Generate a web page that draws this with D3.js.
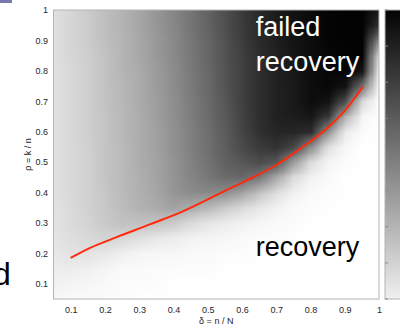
<!DOCTYPE html>
<html><head><meta charset="utf-8">
<script src="https://cdn.jsdelivr.net/npm/d3@7"></script>
<style>
html,body{margin:0;padding:0;background:#fff;overflow:hidden;}
svg{display:block;font-family:"Liberation Sans",Arial,Helvetica,sans-serif;}
</style></head><body>
<svg id="chart" width="400" height="327"></svg>
<script>
// delta (columns) and rho (rows, top to bottom) of the grid
const deltaGrid = [0.05,0.10,0.15,0.20,0.25,0.30,0.35,0.40,0.45,0.50,0.55,0.60,0.65,0.70,0.75,0.80,0.85,0.90,0.95,1.00];
const rhoGrid = [1.00,0.95,0.90,0.85,0.80,0.75,0.70,0.65,0.60,0.55,0.50,0.45,0.40,0.35,0.30,0.25,0.20,0.15,0.10,0.05];
// failure level (0 = recovery/white, 100 = failed/black), one row per rho
const failRows = [
 [12,16,20,25,30,35,41,47,54,61,69,77,84,89,93,96,98,99,99,90],
 [12,16,20,25,30,35,41,47,54,61,69,77,84,89,93,96,98,99,99,80],
 [12,16,20,25,29,34,40,46,53,60,68,76,83,88,92,95,98,99,99,45],
 [12,16,19,24,29,34,40,46,53,60,68,75,82,87,91,95,97,98,99,12],
 [12,15,19,24,29,33,39,45,52,59,67,75,82,87,91,95,97,98,92,3],
 [12,15,19,24,28,33,39,45,52,59,67,75,82,87,90,95,97,93,55,1],
 [12,15,19,24,28,33,38,44,51,58,66,75,82,87,90,95,93,70,15,0],
 [12,15,19,23,28,32,38,44,51,58,65,74,82,87,89,91,78,30,4,0],
 [12,15,19,23,28,32,37,43,50,57,64,73,81,85,85,82,42,8,1,0],
 [12,15,18,23,27,32,37,43,50,56,63,71,77,80,72,44,12,3,0,0],
 [12,15,18,23,27,32,36,42,49,55,62,66,70,66,38,14,4,1,0,0],
 [12,15,18,23,27,31,36,42,48,53,58,59,52,34,14,5,2,0,0,0],
 [12,15,18,22,27,31,35,41,45,46,44,36,24,13,5,2,1,0,0,0],
 [11,14,18,22,26,30,33,36,32,27,20,14,9,5,2,1,0,0,0,0],
 [11,14,17,21,24,24,23,20,14,10,7,5,3,2,1,0,0,0,0,0],
 [10,13,15,17,15,12,9,7,5,4,3,2,1,1,0,0,0,0,0,0],
 [9,11,11,9,6,4,3,3,2,2,1,1,0,0,0,0,0,0,0,0],
 [7,7,6,4,2,2,1,1,1,1,0,0,0,0,0,0,0,0,0,0],
 [5,4,3,2,1,1,1,0,0,0,0,0,0,0,0,0,0,0,0,0],
 [3,2,2,1,1,0,0,0,0,0,0,0,0,0,0,0,0,0,0,0]
];
// phase transition curve (red)
const curveDelta = [0.10,0.157,0.236,0.333,0.429,0.537,0.605,0.704,0.752,0.851,0.898,0.953];
const curveRho   = [0.185,0.218,0.254,0.296,0.339,0.398,0.435,0.493,0.530,0.614,0.666,0.748];
// ticks
const xTicks = [0.1,0.2,0.3,0.4,0.5,0.6,0.7,0.8,0.9,1];
const yTicks = [0.1,0.2,0.3,0.4,0.5,0.6,0.7,0.8,0.9,1];
const cbTicks = [0,12.5,25,37.5,50,62.5,75,87.5,100];
const regionLabels = [
  {text:"failed", d:0.64, r:0.915, color:"#ffffff"},
  {text:"recovery", d:0.64, r:0.80, color:"#ffffff"},
  {text:"recovery", d:0.64, r:0.19, color:"#000000"}
];

const svg = d3.select("#chart");
const x = d3.scaleLinear().domain([0.05,1]).range([53.5,379]);
const y = d3.scaleLinear().domain([0.05,1]).range([299,10]);
const gray = d3.scaleLinear().domain([0,100]).range(["#ffffff","#000000"]);

// heatmap image built from grid values
const nc = deltaGrid.length, nr = rhoGrid.length;
const cv = document.createElement("canvas");
cv.width = nc; cv.height = nr;
const ctx = cv.getContext("2d");
const img = ctx.createImageData(nc, nr);
failRows.forEach((row,i)=>row.forEach((v,j)=>{
  const c = d3.rgb(gray(v));
  const k = (i*nc+j)*4;
  img.data[k]=c.r; img.data[k+1]=c.g; img.data[k+2]=c.b; img.data[k+3]=255;
}));
ctx.putImageData(img,0,0);

const defs = svg.append("defs");
defs.append("clipPath").attr("id","plotclip").append("rect")
  .attr("x",x(0.05)).attr("y",y(1)).attr("width",x(1)-x(0.05)).attr("height",y(0.05)-y(1));

const hd = (deltaGrid[1]-deltaGrid[0])/2, hr = (rhoGrid[0]-rhoGrid[1])/2;
svg.append("g").attr("clip-path","url(#plotclip)")
  .append("image")
  .attr("href", cv.toDataURL())
  .attr("x", x(deltaGrid[0]-hd)).attr("y", y(rhoGrid[0]+hr))
  .attr("width", x(deltaGrid[nc-1]+hd)-x(deltaGrid[0]-hd))
  .attr("height", y(rhoGrid[nr-1]-hr)-y(rhoGrid[0]+hr))
  .attr("preserveAspectRatio","none");

// frame
svg.append("rect").attr("x",x(0.05)).attr("y",y(1))
  .attr("width",x(1)-x(0.05)).attr("height",y(0.05)-y(1))
  .attr("fill","none").attr("stroke","#b4b4b4").attr("stroke-width",1);

// red curve
const line = d3.line().x(d=>x(d[0])).y(d=>y(d[1])).curve(d3.curveMonotoneX);
svg.append("path").datum(curveDelta.map((d,i)=>[d,curveRho[i]]))
  .attr("d",line).attr("fill","none").attr("stroke","#ff2a0a").attr("stroke-width",2);

// axes
const xa = svg.append("g").attr("transform",`translate(0,${y(0.05)})`)
  .call(d3.axisBottom(x).tickValues(xTicks).tickSize(0).tickPadding(8).tickFormat(d3.format("")));
const ya = svg.append("g").attr("transform",`translate(${x(0.05)},0)`)
  .call(d3.axisLeft(y).tickValues(yTicks).tickSize(0).tickPadding(5.5).tickFormat(d3.format("")));
[xa,ya].forEach(a=>{
  a.select(".domain").remove();
  a.selectAll("text").attr("font-size",9).attr("fill","#262626")
   .attr("font-family","'Liberation Sans',Arial,sans-serif");
});

svg.append("text").attr("x",(x(0.05)+x(1))/2).attr("y",324)
  .attr("text-anchor","middle").attr("font-size",9).attr("fill","#262626")
  .text("δ = n / N");
svg.append("text").attr("transform",`translate(31,${(y(0.05)+y(1))/2}) rotate(-90)`)
  .attr("text-anchor","middle").attr("font-size",9).attr("fill","#262626")
  .text("ρ = k / n");

// region labels
svg.selectAll("text.region").data(regionLabels).enter().append("text")
  .attr("class","region").attr("x",d=>x(d.d)).attr("y",d=>y(d.r))
  .attr("font-size",27).attr("fill",d=>d.color).text(d=>d.text);

// colorbar (partially visible)
const cb = d3.scaleLinear().domain([0,100]).range([y(0.05),y(1)]);
const grad = defs.append("linearGradient").attr("id","cbgrad")
  .attr("x1",0).attr("y1",1).attr("x2",0).attr("y2",0);
[0,25,50,75,100].forEach(v=>grad.append("stop")
  .attr("offset",v/100).attr("stop-color",gray(v*0.93+6)));
svg.append("rect").attr("x",385).attr("y",cb(100)).attr("width",30)
  .attr("height",cb(0)-cb(100)).attr("fill","url(#cbgrad)")
  .attr("stroke","#b4b4b4").attr("stroke-width",1);
svg.append("g").selectAll("line").data(cbTicks).enter().append("line")
  .attr("x1",385).attr("x2",388).attr("y1",d=>cb(d)).attr("y2",d=>cb(d))
  .attr("stroke","#888").attr("stroke-width",1);

// slide fragments (the reference is a crop of a larger slide)
svg.append("rect").attr("x",0).attr("y",0).attr("width",12).attr("height",3).attr("fill","#7a78b0");
svg.append("text").attr("x",-7).attr("y",285).attr("font-size",32).attr("fill","#000").text("d");
</script>
</body></html>
